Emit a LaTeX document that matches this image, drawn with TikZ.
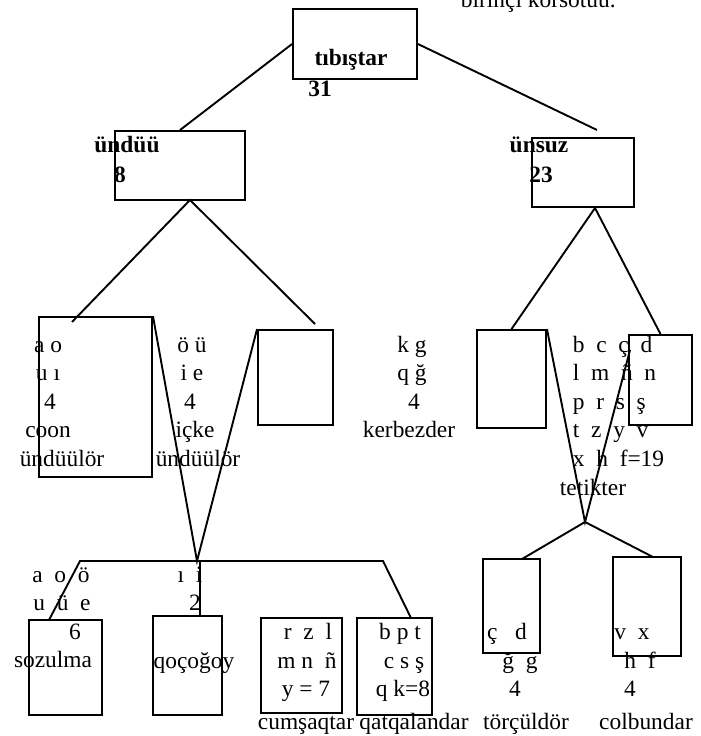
\documentclass[tikz,border=0pt]{standalone}
\usepackage{fontspec}
\setmainfont{Liberation Serif}
\begin{document}
\begin{tikzpicture}[x=1pt, y=-1pt, line width=1.9pt,
    every node/.style={font=\fontsize{23.4}{28.5}\selectfont, inner sep=0pt},
    box/.style={draw, rectangle},
    lbl/.style={anchor=base},
    bold/.style={anchor=base, font=\fontsize{23.4}{28.5}\selectfont\bfseries}]
    \useasboundingbox (0,0) rectangle (701,736);
    % boxes: name / centre x / centre y / width / height
    \foreach \n/\x/\y/\w/\h in {tib/355/44/124/70, undu/180/165.5/130/69,
        unsuz/583/172.5/102/69, coon/95.5/397/113/160, bos/295.5/377.5/75/95,
        kerb/511.5/379/69/98, tet/660.5/380/63/90, soz/65.5/667.5/73/95,
        qoc/187.5/665.5/69/99, cum/301.5/665.5/81/95, qat/394.5/666.5/75/97,
        tor/511.5/606/57/94, col/647/606.5/68/99}
       \node[box, minimum width=\w*1pt, minimum height=\h*1pt] (\n) at (\x,\y) {};
    % free ends of the connectors
    \coordinate (uz) at (597,130);
    \coordinate (sv) at (190,200);
    \coordinate (c1) at (72,322);
    \coordinate (b1) at (315,324);
    \coordinate (zv) at (595,208);
    \coordinate (v1) at (197,561);
    \coordinate (v2) at (585,522);
    \coordinate (tv) at (630,350);
    \coordinate (to1) at (522,559);
    \coordinate (co1) at (653,557);
    \coordinate (hl) at (80,561);
    \coordinate (hr) at (383,561);
    \coordinate (hm) at (200,561);
    \coordinate (s1) at (49,620);
    \coordinate (q1) at (411,618);
    % connectors
    \draw (tib.west) -- (undu.north);
    \draw (tib.east) -- (uz);
    \draw (c1) -- (sv) -- (b1);
    \draw (kerb.north) -- (zv) -- (tet.north);
    \draw (coon.north east) -- (v1) -- (bos.north west);
    \draw (kerb.north east) -- (v2) -- (tv);
    \draw (to1) -- (v2) -- (co1);
    \draw (s1) -- (hl) -- (hr) -- (q1);
    \draw (hm) -- (hm |- qoc.north);
    % labels
    \node[lbl, anchor=base west] (title) at (460,7) {birinçi körsötüü.};
    \node[bold] (tibt) at (351,65) {tıbıştar};
    \node[bold] (tibn) at (320,96) {31};
    \node[bold] (undut) at (127,152) {ündüü};
    \node[bold] (undun) at (120,182) {8};
    \node[bold] (unsuzt) at (539,152) {ünsuz};
    \node[bold] (unsuzn) at (541,182) {23};
    \foreach \t/\x [count=\i] in {a o/48, u ı/48, 4/50, coon/48, ündüülör/62}
       \node[lbl] (co\i) at (\x, 323.5+28.5*\i) {\t};
    \foreach \t/\x [count=\i] in {ö ü/192, i e/192, 4/190, içke/195, ündüülör/198}
       \node[lbl] (ic\i) at (\x, 323.5+28.5*\i) {\t};
    \foreach \t/\x [count=\i] in {k g/412, q ğ/412, 4/414, kerbezder/409}
       \node[lbl] (ke\i) at (\x, 323.5+28.5*\i) {\t};
    \foreach \t [count=\i] in {b~~c~~ç~~d, l~~m~~ñ~~n, p~~r~~s~~ş, t~~z~~y~~v, x~~h~~f=19}
       \node[lbl, anchor=base west] (te\i) at (572, 323.5+28.5*\i) {\t};
    \node[lbl] (tet6) at (593,495) {tetikter};
    \foreach \t/\x [count=\i] in {a~~o~~ö/61, u~~ü~~e/62, 6/75, sozulma/53}
       \node[lbl] (so\i) at (\x, 553.5+28.5*\i) {\t};
    \foreach \t/\x [count=\i] in {ı~~i/190, 2/195}
       \node[lbl] (qo\i) at (\x, 553.5+28.5*\i) {\t};
    \node[lbl] (qo4) at (194,668) {qoçoğoy};
    \foreach \t/\x [count=\i] in {r~~z~~l/308, m~n~~ñ/307, y = 7/306}
       \node[lbl] (cu\i) at (\x, 611+28.5*\i) {\t};
    \foreach \t/\x [count=\i] in {b p t/400, c s ş/404, q k=8/403}
       \node[lbl] (qa\i) at (\x, 611+28.5*\i) {\t};
    \foreach \t/\x [count=\i] in {ç~~~d/507, ğ~~g/520, 4/515}
       \node[lbl] (to\i) at (\x, 611+28.5*\i) {\t};
    \foreach \t/\x [count=\i] in {v~~x/632, h~~f/640, 4/630}
       \node[lbl] (cb\i) at (\x, 611+28.5*\i) {\t};
    \node[lbl] (cu4) at (306,729) {cumşaqtar};
    \node[lbl] (qa4) at (414,729) {qatqalandar};
    \node[lbl] (to4) at (526,729) {törçüldör};
    \node[lbl] (cb4) at (646,729) {colbundar};
\end{tikzpicture}
\end{document}
